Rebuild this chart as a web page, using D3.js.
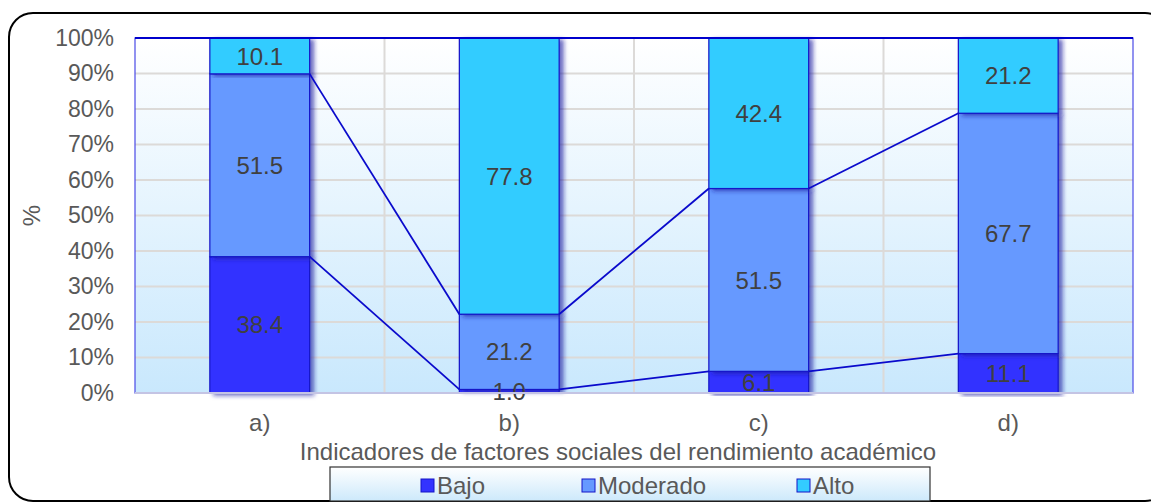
<!DOCTYPE html>
<html>
<head>
<meta charset="utf-8">
<script src="https://cdn.jsdelivr.net/npm/d3@7"></script>
<style>
  body { margin: 0; background: #fff; }
  svg text { font-family: "Liberation Sans", Arial, sans-serif; }
</style>
</head>
<body>
<div id="container"></div>
<script>
// data
var categories = ["a)", "b)", "c)", "d)"];
var seriesNames = ["Bajo", "Moderado", "Alto"];
var bajo = [38.4, 1.0, 6.1, 11.1];
var moderado = [51.5, 21.2, 51.5, 67.7];
var alto = [10.1, 77.8, 42.4, 21.2];
var yTicks = [0, 10, 20, 30, 40, 50, 60, 70, 80, 90, 100];
var colors = ["#3333ff", "#6699ff", "#33ccff"];

var W = 1151, H = 503;
var margin = { top: 38, right: 18, bottom: 110, left: 135 },
    width = W - margin.left - margin.right,
    height = H - margin.top - margin.bottom;

var svg = d3.select("#container").append("svg")
    .attr("width", W)
    .attr("height", H);

var defs = svg.append("defs");
var bg = defs.append("linearGradient").attr("id", "plotBg")
    .attr("x1", 0).attr("y1", 0).attr("x2", 0).attr("y2", 1);
bg.append("stop").attr("offset", "0%").attr("stop-color", "#ffffff");
bg.append("stop").attr("offset", "100%").attr("stop-color", "#c9e8fd");

var lg = defs.append("linearGradient").attr("id", "legBg")
    .attr("x1", 0).attr("y1", 0).attr("x2", 0).attr("y2", 1);
lg.append("stop").attr("offset", "0%").attr("stop-color", "#ffffff");
lg.append("stop").attr("offset", "100%").attr("stop-color", "#cde9fb");

var sh = defs.append("filter").attr("id", "shadow")
    .attr("x", "-10%").attr("y", "-10%").attr("width", "130%").attr("height", "120%");
sh.append("feDropShadow")
    .attr("dx", 4).attr("dy", 2).attr("stdDeviation", 2.2)
    .attr("flood-color", "#1a1aa0").attr("flood-opacity", 0.65);

// outer frame
svg.append("rect")
    .attr("x", 9).attr("y", 13)
    .attr("width", 1160).attr("height", 488)
    .attr("rx", 24).attr("ry", 24)
    .attr("fill", "none")
    .attr("stroke", "#000")
    .attr("stroke-width", 2);

var g = svg.append("g")
    .attr("transform", "translate(" + margin.left + "," + margin.top + ")");

// scales
var x = d3.scaleBand().domain(categories).range([0, width]).paddingInner(0.6).paddingOuter(0.3);
var xBand = d3.scaleBand().domain(categories).range([0, width]);
var y = d3.scaleLinear().domain([0, 100]).range([height, 0]);

// plot background
g.append("rect")
    .attr("width", width).attr("height", height)
    .attr("fill", "url(#plotBg)");

// grid
g.selectAll(".hgrid").data(yTicks.slice(1, -1)).enter().append("line")
    .attr("x1", 0).attr("x2", width)
    .attr("y1", function(d) { return y(d); })
    .attr("y2", function(d) { return y(d); })
    .attr("stroke", "#dcdad8").attr("stroke-width", 2);

g.selectAll(".vgrid").data(categories.slice(1)).enter().append("line")
    .attr("x1", function(d) { return xBand(d); })
    .attr("x2", function(d) { return xBand(d); })
    .attr("y1", 0).attr("y2", height)
    .attr("stroke", "#dcdad8").attr("stroke-width", 2);

// stacked data
var rows = categories.map(function(c, i) {
    return { cat: c, Bajo: bajo[i], Moderado: moderado[i], Alto: alto[i] };
});
var stack = d3.stack().keys(seriesNames)(rows);

// bars
var layers = g.selectAll(".layer").data(stack).enter().append("g")
    .attr("fill", function(d, i) { return colors[i]; });

layers.selectAll("rect").data(function(d) { return d; }).enter().append("rect")
    .attr("x", function(d) { return x(d.data.cat); })
    .attr("width", x.bandwidth())
    .attr("y", function(d) { return y(d[1]); })
    .attr("height", function(d) { return y(d[0]) - y(d[1]); })
    .attr("stroke", "#1414c8")
    .attr("stroke-width", 1.2)
    .attr("filter", "url(#shadow)");

// series lines between bars
[0, 1].forEach(function(k) {
    for (var i = 0; i < categories.length - 1; i++) {
        g.append("line")
            .attr("x1", x(categories[i]) + x.bandwidth())
            .attr("y1", y(stack[k][i][1]))
            .attr("x2", x(categories[i + 1]))
            .attr("y2", y(stack[k][i + 1][1]))
            .attr("stroke", "#0a0acc")
            .attr("stroke-width", 1.8);
    }
});

// data labels
stack.forEach(function(layer) {
    g.selectAll(null).data(layer).enter().append("text")
        .attr("x", function(d) { return x(d.data.cat) + x.bandwidth() / 2; })
        .attr("y", function(d) { return (y(d[0]) + y(d[1])) / 2; })
        .attr("dy", "0.36em")
        .attr("text-anchor", "middle")
        .attr("font-size", 24)
        .attr("fill", "#404040")
        .text(function(d) { return (d[1] - d[0]).toFixed(1); });
});

// plot border
g.append("rect")
    .attr("width", width).attr("height", height)
    .attr("fill", "none")
    .attr("stroke", "#4a4ae6").attr("stroke-width", 1.2);
g.append("line")
    .attr("x1", 0).attr("x2", width).attr("y1", 0).attr("y2", 0)
    .attr("stroke", "#0000cc").attr("stroke-width", 2);
g.append("line")
    .attr("x1", 0).attr("x2", width).attr("y1", height).attr("y2", height)
    .attr("stroke", "#c4c4e4").attr("stroke-width", 2);

// axes
var yAxis = g.append("g")
    .call(d3.axisLeft(y).tickValues(yTicks).tickSize(0).tickPadding(21)
        .tickFormat(function(d) { return d + "%"; }));
yAxis.select(".domain").remove();
yAxis.selectAll("text")
    .attr("font-size", 23)
    .attr("fill", "#595959")
    .style("font-family", "Liberation Sans, Arial, sans-serif");

var xAxis = g.append("g")
    .attr("transform", "translate(0," + height + ")")
    .call(d3.axisBottom(xBand).tickSize(0).tickPadding(21));
xAxis.select(".domain").remove();
xAxis.selectAll("text")
    .attr("font-size", 24)
    .attr("fill", "#595959")
    .style("font-family", "Liberation Sans, Arial, sans-serif");

// axis titles
svg.append("text")
    .attr("x", margin.left + width / 2 - 16)
    .attr("y", 460)
    .attr("text-anchor", "middle")
    .attr("font-size", 24)
    .attr("fill", "#595959")
    .text("Indicadores de factores sociales del rendimiento académico");

svg.append("text")
    .attr("transform", "translate(40," + (margin.top + height / 2) + ") rotate(-90)")
    .attr("text-anchor", "middle")
    .attr("font-size", 24)
    .attr("fill", "#595959")
    .text("%");

// legend
var legend = svg.append("g").attr("transform", "translate(330,467)");
legend.append("rect")
    .attr("width", 600).attr("height", 34)
    .attr("fill", "url(#legBg)")
    .attr("stroke", "#333").attr("stroke-width", 1.2);

var legX = [91, 252, 467];
var item = legend.selectAll(".item").data(seriesNames).enter().append("g")
    .attr("transform", function(d, i) { return "translate(" + legX[i] + ",0)"; });
item.append("rect")
    .attr("y", 12).attr("width", 13).attr("height", 13)
    .attr("fill", function(d, i) { return colors[i]; })
    .attr("stroke", "#1414c8").attr("stroke-width", 1);
item.append("text")
    .attr("x", 16).attr("y", 18.5).attr("dy", "0.36em")
    .attr("font-size", 24)
    .attr("fill", "#595959")
    .text(function(d) { return d; });
</script>
</body>
</html>
